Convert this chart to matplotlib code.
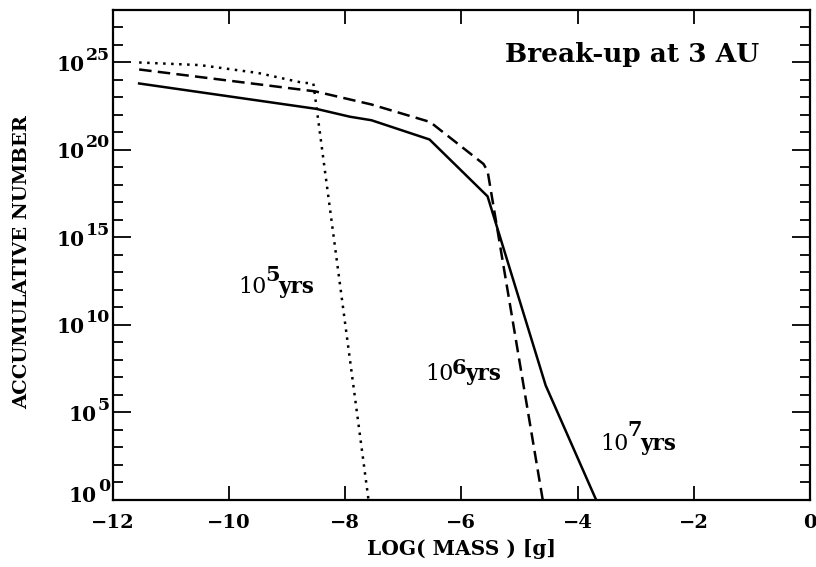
import matplotlib
matplotlib.use("Agg")
import matplotlib.pyplot as plt
import numpy as np
from matplotlib.ticker import FixedLocator, NullFormatter

plt.rcParams['font.family'] = 'DejaVu Serif'

# log10(mass) [g] and log10(accumulative number)
x_1e5 = [-11.55, -10.5, -9.5, -8.75, -8.55, -7.6]
logn_1e5 = [25.0, 24.85, 24.4, 23.85, 23.8, 0.0]

x_1e6 = [-11.55, -8.52, -7.55, -6.54, -5.62, -5.55, -4.6]
logn_1e6 = [24.6, 23.35, 22.6, 21.6, 19.2, 18.8, 0.0]

x_1e7 = [-11.55, -8.5, -7.92, -7.55, -6.55, -5.55, -4.55, -3.68]
logn_1e7 = [23.8, 22.35, 21.9, 21.7, 20.6, 17.35, 6.55, 0.0]

ytick_pows = [0, 5, 10, 15, 20, 25]
xticks = [-12, -10, -8, -6, -4, -2, 0]

# curve labels: exponent, x, log10(y) of baseline, raise of exponent (pt)
lab_exp = ['5', '6', '7']
lab_x = [-9.85, -6.63, -3.615]
lab_logy = [11.83, 6.86, 2.86]
lab_raise = [9.4, 5.0, 10.8]

fig = plt.figure(figsize=(8.16, 5.67), dpi=100)
ax = fig.add_axes([0.1385, 0.1182, 0.854, 0.8642])

lw = 1.8
ax.plot(x_1e5, 10.0 ** np.array(logn_1e5), color='black', lw=lw,
        dashes=(1, 2.2))
ax.plot(x_1e6, 10.0 ** np.array(logn_1e6), color='black', lw=lw,
        dashes=(5, 2.5))
ax.plot(x_1e7, 10.0 ** np.array(logn_1e7), color='black', lw=lw)

ax.set_yscale('log')
ax.set_xlim(-12, 0)
ax.set_ylim(1e0, 1e28)

ax.yaxis.set_major_locator(FixedLocator([10.0 ** p for p in ytick_pows]))
ax.yaxis.set_minor_locator(FixedLocator([10.0 ** p for p in range(0, 29)]))
ax.yaxis.set_minor_formatter(NullFormatter())
ax.set_yticklabels([])

ax.set_xticks(xticks)
ax.set_xticklabels([('%d' % v).replace('-', '\u2212') for v in xticks],
                   fontweight='bold')

ax.tick_params(which='both', direction='in', top=True, right=True,
               labelsize=14, width=1.3)
ax.tick_params(axis='y', which='major', length=13, pad=3)
ax.tick_params(axis='y', which='minor', length=7)
ax.tick_params(axis='x', which='major', length=10, pad=10)
for s in ax.spines.values():
    s.set_linewidth(1.6)

# y tick labels drawn by hand so the exponent can be nearly full size
for p in ytick_pows:
    shift = 4.5 if p == 0 else 0.0
    sup = ax.annotate(str(p), xy=(0, 10.0 ** p),
                      xycoords=('axes fraction', 'data'),
                      xytext=(-2.2, 5.2 + shift), textcoords='offset points',
                      ha='right', va='center', fontsize=12.5,
                      fontweight='bold', annotation_clip=False)
    ax.annotate('10', xy=(0, 10.0 ** p), xycoords=(sup, 'data'),
                xytext=(-0.5, -1.5 + shift), textcoords='offset points',
                ha='right', va='center', fontsize=14.5, fontweight='bold',
                annotation_clip=False)

ax.set_xlabel('LOG( MASS ) [g]', fontsize=14.5, fontweight='bold')
ax.xaxis.set_label_coords(0.5, -0.079)
ax.set_ylabel('ACCUMULATIVE NUMBER', fontsize=14, fontweight='bold')
ax.yaxis.set_label_coords(-0.118, 0.486)

ax.text((632 - 113) / 697.0, (500 - 55) / 490.0, 'Break-up at 3 AU',
        transform=ax.transAxes, fontsize=19, fontweight='bold',
        ha='center', va='center')

for e, lx, ly, r in zip(lab_exp, lab_x, lab_logy, lab_raise):
    t1 = ax.text(lx, 10.0 ** ly, '10', fontsize=16, ha='left',
                 va='baseline')
    t2 = ax.annotate(e, xy=(1, 0), xycoords=t1, xytext=(-1.0, r),
                     textcoords='offset points', ha='left', va='bottom',
                     fontsize=15, fontweight='bold')
    ax.annotate('yrs', xy=(1, 0), xycoords=(t2, t1), xytext=(-0.8, 0),
                textcoords='offset points', ha='left', va='bottom',
                fontsize=15.5, fontweight='bold')

fig.savefig('out.png', dpi=100)
